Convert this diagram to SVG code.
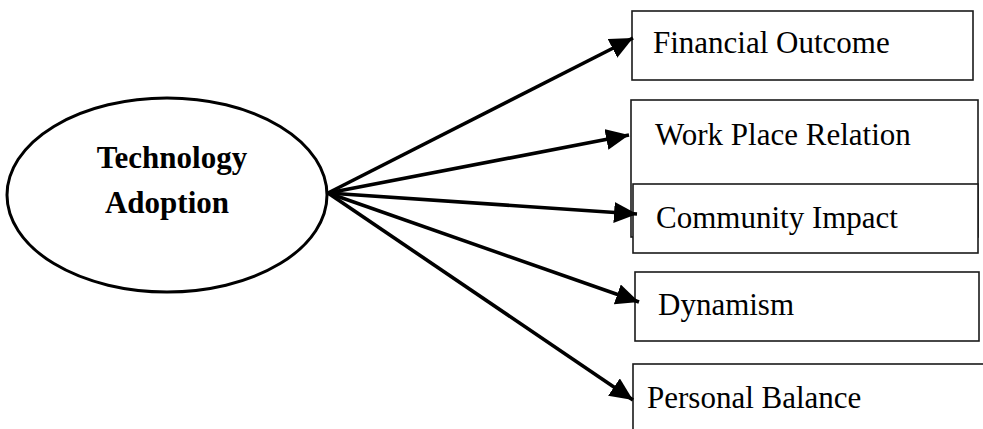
<svg xmlns="http://www.w3.org/2000/svg" width="983" height="429" viewBox="0 0 983 429">
  <style>
    .box { fill: #ffffff; stroke: #1a1a1a; stroke-width: 1.6; }
    .lbl { font-family: "Liberation Serif", "Times New Roman", serif; font-size: 31px; fill: #000; }
    .head { font-family: "Liberation Serif", "Times New Roman", serif; font-size: 31px; font-weight: bold; fill: #000; text-anchor: middle; }
    .edge { stroke: #000; stroke-width: 3.6; fill: none; marker-end: url(#arrow); }
  </style>
  <defs>
    <marker id="arrow" markerUnits="userSpaceOnUse" markerWidth="24" markerHeight="22" refX="23" refY="10.5" orient="auto">
      <path d="M0,0 L23,10.5 L0,21 Z" fill="#000"/>
    </marker>
  </defs>

  <rect width="983" height="429" fill="#ffffff"/>

  <!-- source node -->
  <g id="technology-adoption">
    <ellipse cx="167" cy="195" rx="160" ry="97" fill="#ffffff" stroke="#000" stroke-width="3"/>
    <text class="head" x="172" y="168">Technology</text>
    <text class="head" x="167" y="213">Adoption</text>
  </g>

  <!-- outcome nodes -->
  <g id="financial-outcome">
    <rect class="box" x="632" y="11" width="341" height="69"/>
    <text class="lbl" x="653" y="53">Financial Outcome</text>
  </g>
  <g id="work-place-relation">
    <rect class="box" x="631" y="100" width="347" height="137"/>
    <text class="lbl" x="655" y="145">Work Place Relation</text>
  </g>
  <g id="community-impact">
    <rect class="box" x="633" y="184" width="345" height="69"/>
    <text class="lbl" x="656" y="228">Community Impact</text>
  </g>
  <g id="dynamism">
    <rect class="box" x="635" y="272" width="344" height="69"/>
    <text class="lbl" x="658" y="315">Dynamism</text>
  </g>
  <g id="personal-balance">
    <rect class="box" x="633" y="364" width="360" height="80"/>
    <text class="lbl" x="647" y="408">Personal Balance</text>
  </g>

  <!-- connectors -->
  <g id="connectors">
    <line class="edge" x1="328" y1="193" x2="633" y2="38"/>
    <line class="edge" x1="328" y1="193" x2="629" y2="135"/>
    <line class="edge" x1="328" y1="193" x2="637" y2="214"/>
    <line class="edge" x1="328" y1="193" x2="639" y2="302"/>
    <line class="edge" x1="328" y1="193" x2="633" y2="400"/>
  </g>
</svg>
